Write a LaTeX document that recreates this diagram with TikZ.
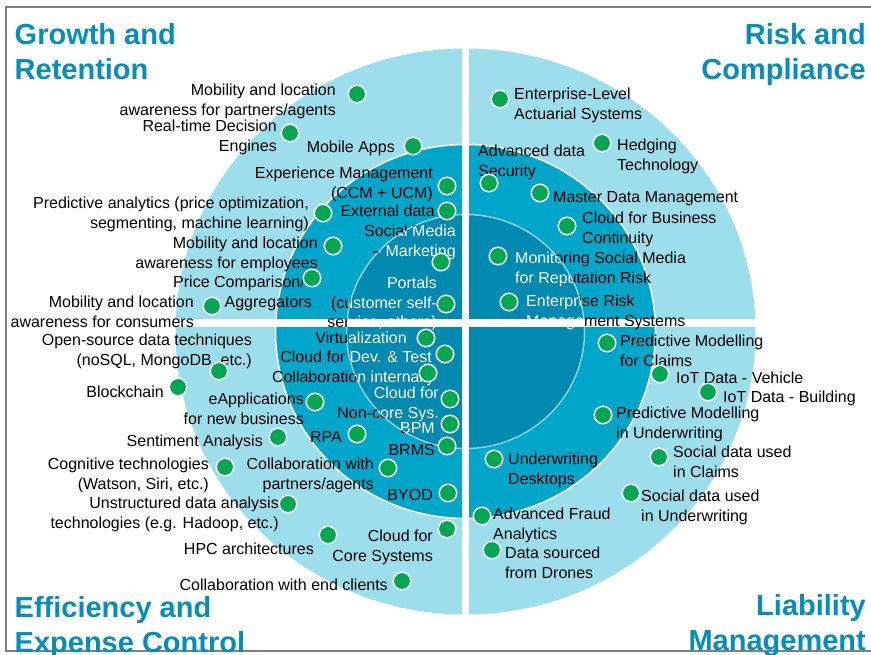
\documentclass[tikz,border=0pt]{standalone}
\usepackage{fontspec}
\setmainfont{Liberation Sans}

\definecolor{ringlight}{RGB}{157,222,237}
\definecolor{ringmid}{RGB}{0,166,201}
\definecolor{ringdark}{RGB}{0,137,177}
\definecolor{dotgreen}{RGB}{0,166,81}
\definecolor{titleblue}{RGB}{8,141,186}

% all item labels, drawn twice (black outside the inner disc, white inside)
\newcommand{\quadtexts}{%
  % Growth and Retention
  \node (mobpart) [lr] at (336,84) {Mobility and location\\awareness for partners/agents};
  \node (rtde) [lr] at (277,120) {Real-time Decision\\Engines};
  \node (apps) [lr] at (395,141) {Mobile Apps};
  \node (expm) [lr] at (433,167) {Experience Management\\(CCM + UCM)};
  \node (extd) [lr] at (435,205) {External data};
  \node (pran) [lr] at (309,197) {Predictive analytics (price optimization,\\segmenting, machine learning)};
  \node (mobemp) [lr] at (318,237) {Mobility and location\\awareness for employees};
  \node (pcmp) [lr] at (312,276) {Price Comparison/\hspace*{7pt}\\Aggregators};
  \node (mobcon) [lr] at (194,296) {Mobility and location\\awareness for consumers};
  \node (socm) [lr] at (456,225) {Social Media\\– Marketing};
  \node (port) [lr] at (437,277) {Portals\\(customer self-\\service, others)};
  % Risk and Compliance
  \node (acts) [ll] at (514,88) {Enterprise-Level\\Actuarial Systems};
  \node (hedg) [ll] at (617,139) {Hedging\\Technology};
  \node (adsec) [ll] at (478,145) {Advanced data\\Security};
  \node (mdm) [ll] at (553,191) {Master Data Management};
  \node (cbc) [ll] at (582,212) {Cloud for Business\\Continuity};
  \node (msm) [ll] at (515,252) {Monitoring Social Media\\for Reputation Risk};
  \node (erm) [ll] at (526,295) {Enterprise Risk\\Management Systems};
  % Liability Management
  \node (pmc) [ll] at (620,335) {Predictive Modelling\\for Claims};
  \node (iotv) [ll] at (676,372) {IoT Data - Vehicle};
  \node (iotb) [ll] at (723,391) {IoT Data - Building};
  \node (pmu) [ll] at (616,407) {Predictive Modelling\\in Underwriting};
  \node (sdc) [ll] at (673,446) {Social data used\\in Claims};
  \node (uwd) [ll] at (508,453) {Underwriting\\Desktops};
  \node (sdu) [ll] at (641,490) {Social data used\\in Underwriting};
  \node (afa) [ll] at (493,508) {Advanced Fraud\\Analytics};
  \node (drn) [ll] at (505,547) {Data sourced\\from Drones};
  % Efficiency and Expense Control
  \node (virt) [lr] at (407,332) {Virtualization};
  \node (cdt) [lr] at (432,351) {Cloud for Dev. \& Test};
  \node (colin) [lr] at (435,371) {Collaboration internally};
  \node (cnc) [lr] at (439,387) {Cloud for\\Non-core Sys.};
  \node (bpm) [lr] at (435,422) {BPM};
  \node (brms) [lr] at (435,444) {BRMS};
  \node (byod) [lr] at (433,489) {BYOD};
  \node (osdt) [lr] at (252,334) {Open-source data techniques\\(noSQL, MongoDB, etc.)};
  \node (bchn) [lr] at (164,386) {Blockchain};
  \node (eapp) [lr] at (304,393) {eApplications\\for new business};
  \node (sent) [lr] at (263,435) {Sentiment Analysis};
  \node (rpa) [lr] at (342,431) {RPA};
  \node (cogt) [lr] at (209,458) {Cognitive technologies\\(Watson, Siri, etc.)};
  \node (colpa) [lr] at (374,458) {Collaboration with\\partners/agents};
  \node (unst) [lr] at (279,497) {Unstructured data analysis\\technologies (e.g. Hadoop, etc.)};
  \node (hpc) [lr] at (314,543) {HPC architectures};
  \node (ccs) [lr] at (433,530) {Cloud for\\Core Systems};
  \node (colec) [lr] at (388,579) {Collaboration with end clients};
}

\begin{document}
\begin{tikzpicture}[x=1pt, y=-1pt,
    lbl/.style={font=\fontsize{16}{19.5}\selectfont, inner sep=0pt},
    lr/.style={lbl, align=right, anchor=north east},
    ll/.style={lbl, align=left, anchor=north west},
    quadtitle/.style={font=\bfseries\fontsize{29}{35.5}\selectfont, text=titleblue, inner sep=0pt},
    dot/.style={circle, fill=dotgreen, draw=white, line width=1.5pt, minimum size=17.5pt, inner sep=0pt}]
    \useasboundingbox (0,0) rectangle (871,654);
    \draw [black!50, line width=2pt] (875,6.5) -- (6,6.5) -- (6,650.5) -- (875,650.5);

    % rings
    \fill [ringlight] (465.5,331.5) ellipse (290pt and 283pt);
    \filldraw [fill=ringmid, draw=white, line width=1.5pt] (465.5,331.5) ellipse (190pt and 187pt);
    \filldraw [fill=ringdark, draw=white, draw opacity=0.55, line width=1.5pt] (465.5,331.5) ellipse (119pt and 117pt);
    \fill [white] (462,30) rectangle (469,630);
    \fill [white] (160,319) rectangle (770,327);

    % quadrant titles
    \node (grow) [quadtitle, align=left, anchor=north west] at (14.5,23) {Growth and\\Retention};
    \node (risk) [quadtitle, align=right, anchor=north east] at (866,23) {Risk and\\Compliance};
    \node (effi) [quadtitle, align=left, anchor=north west] at (14.5,596) {Efficiency and\\Expense Control};
    \node (liab) [quadtitle, align=right, anchor=north east] at (866,594) {Liability\\Management};

    \begin{scope}[even odd rule]
        \clip (0,0) rectangle (871,654) (465.5,331.5) ellipse (119pt and 117pt);
        \quadtexts
    \end{scope}
    \begin{scope}[every node/.append style={text=white}]
        \clip (465.5,331.5) ellipse (119pt and 117pt);
        \quadtexts
    \end{scope}

    % dots
    \node (d1) [dot] at (357,94) {};
    \node (d2) [dot] at (290,133) {};
    \node (d3) [dot] at (413,146) {};
    \node (d4) [dot] at (447,186) {};
    \node (d5) [dot] at (447,211) {};
    \node (d6) [dot] at (323,213) {};
    \node (d7) [dot] at (333,246) {};
    \node (d8) [dot] at (312,278) {};
    \node (d9) [dot] at (212,306) {};
    \node (d10) [dot] at (441,262) {};
    \node (d11) [dot] at (446,304) {};
    \node (d12) [dot] at (500,99) {};
    \node (d13) [dot] at (602,143) {};
    \node (d14) [dot] at (489,183) {};
    \node (d15) [dot] at (540,193) {};
    \node (d16) [dot] at (567,226) {};
    \node (d17) [dot] at (498,256) {};
    \node (d18) [dot] at (509,302) {};
    \node (d19) [dot] at (607,343) {};
    \node (d20) [dot] at (660,374) {};
    \node (d21) [dot] at (708,392) {};
    \node (d22) [dot] at (603,415) {};
    \node (d23) [dot] at (659,457) {};
    \node (d24) [dot] at (494,459) {};
    \node (d25) [dot] at (631,493) {};
    \node (d26) [dot] at (482,516) {};
    \node (d27) [dot] at (492,550) {};
    \node (d28) [dot] at (426,338) {};
    \node (d29) [dot] at (445,354) {};
    \node (d30) [dot] at (428,373) {};
    \node (d31) [dot] at (450,399) {};
    \node (d32) [dot] at (450,424) {};
    \node (d33) [dot] at (447,446) {};
    \node (d34) [dot] at (448,493) {};
    \node (d35) [dot] at (219,371) {};
    \node (d36) [dot] at (178,387) {};
    \node (d37) [dot] at (315,402) {};
    \node (d38) [dot] at (278,437) {};
    \node (d39) [dot] at (357,434) {};
    \node (d40) [dot] at (225,467) {};
    \node (d41) [dot] at (388,468) {};
    \node (d42) [dot] at (288,504) {};
    \node (d43) [dot] at (328,535) {};
    \node (d44) [dot] at (447,529) {};
    \node (d45) [dot] at (402,581) {};
\end{tikzpicture}
\end{document}
